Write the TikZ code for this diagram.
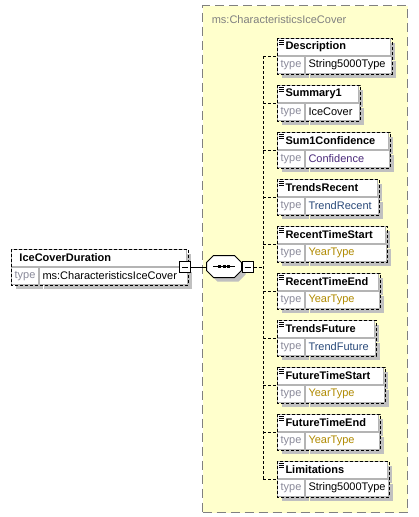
\documentclass[tikz,border=0pt]{standalone}
\usepackage{fontspec}
\setmainfont{Liberation Sans}
\usetikzlibrary{shadows}

\definecolor{grpfill}{HTML}{FFFFCC}
\definecolor{grpline}{HTML}{808080}
\definecolor{shadowgray}{HTML}{C0C0C0}
\definecolor{sepline}{HTML}{B4B4B4}
\definecolor{keytext}{HTML}{8A8A9A}
\definecolor{simpletype}{HTML}{B08A00}
\definecolor{enumtype}{HTML}{4A2A7A}
\definecolor{trendtype}{HTML}{2A4A7A}

\begin{document}
\begin{tikzpicture}[x=1pt, y=-1pt, line width=1pt,
    font=\fontsize{11}{13}\selectfont,
    eshadow/.style={drop shadow={shadow xshift=4pt, shadow yshift=-4pt, fill=shadowgray, opacity=1}},
    grp/.style={draw=grpline, dash pattern=on 9pt off 5pt, fill=grpfill, anchor=north west, inner sep=0pt},
    etitle/.style={draw=sepline, fill=white, eshadow, anchor=north west, align=left, inner xsep=8pt, inner ysep=0pt, minimum height=17pt, font=\fontsize{11}{13}\selectfont\bfseries},
    ekey/.style={draw=sepline, fill=white, eshadow, anchor=north west, inner sep=0pt, minimum width=27pt, minimum height=17pt, text=keytext},
    etype/.style={draw=sepline, fill=white, eshadow, anchor=north west, align=left, inner xsep=3pt, inner ysep=0pt, minimum height=17pt},
    eborder/.style={draw, dash pattern=on 3pt off 2pt},
    conn/.style={dash pattern=on 3pt off 2pt},
    minus/.style={draw, fill=white, minimum size=11pt, inner sep=0pt},
    seqbox/.style={minimum width=34pt, minimum height=21pt, inner sep=0pt}
]
\useasboundingbox (0,0) rectangle (418,517);

% group of the complex type
\node[grp, minimum width=205pt, minimum height=507pt] (grpbox) at (202,5) {};
\node[anchor=base west, text=grpline] (grptitle) at (208,23) {ms:CharacteristicsIceCover};

% root element
\node[etitle, text width=159pt] (icd) at (11,249) {IceCoverDuration};
\node[ekey] (icd-k) at (icd.south west) {type};
\node[etype, text width=142pt] (icd-t) at (icd-k.north east) {ms:CharacteristicsIceCover};

% child elements
\node[etitle, text width=97pt] (desc) at (277,38) {Description};
\node[ekey] (desc-k) at (desc.south west) {type};
\node[etype, text width=80pt] (desc-t) at (desc-k.north east) {String5000Type};

\node[etitle, text width=65pt] (sum) at (277,85) {Summary1};
\node[ekey] (sum-k) at (sum.south west) {type};
\node[etype, text width=48pt] (sum-t) at (sum-k.north east) {IceCover};

\node[etitle, text width=95pt] (conf) at (277,132) {Sum1Confidence};
\node[ekey] (conf-k) at (conf.south west) {type};
\node[etype, text width=78pt, text=enumtype] (conf-t) at (conf-k.north east) {Confidence};

\node[etitle, text width=84pt] (trec) at (277,179) {TrendsRecent};
\node[ekey] (trec-k) at (trec.south west) {type};
\node[etype, text width=67pt, text=trendtype] (trec-t) at (trec-k.north east) {TrendRecent};

\node[etitle, text width=92pt] (rts) at (277,226) {RecentTimeStart};
\node[ekey] (rts-k) at (rts.south west) {type};
\node[etype, text width=75pt, text=simpletype] (rts-t) at (rts-k.north east) {YearType};

\node[etitle, text width=85pt] (rte) at (277,273) {RecentTimeEnd};
\node[ekey] (rte-k) at (rte.south west) {type};
\node[etype, text width=68pt, text=simpletype] (rte-t) at (rte-k.north east) {YearType};

\node[etitle, text width=81pt] (tfut) at (277,320) {TrendsFuture};
\node[ekey] (tfut-k) at (tfut.south west) {type};
\node[etype, text width=64pt, text=trendtype] (tfut-t) at (tfut-k.north east) {TrendFuture};

\node[etitle, text width=90pt] (fts) at (277,367) {FutureTimeStart};
\node[ekey] (fts-k) at (fts.south west) {type};
\node[etype, text width=73pt, text=simpletype] (fts-t) at (fts-k.north east) {YearType};

\node[etitle, text width=85pt] (fte) at (277,414) {FutureTimeEnd};
\node[ekey] (fte-k) at (fte.south west) {type};
\node[etype, text width=68pt, text=simpletype] (fte-t) at (fte-k.north east) {YearType};

\node[etitle, text width=94pt] (lim) at (277,461) {Limitations};
\node[ekey] (lim-k) at (lim.south west) {type};
\node[etype, text width=77pt] (lim-t) at (lim-k.north east) {String5000Type};

% dashed outlines and content marks
\draw[eborder] (icd.north west) rectangle (icd-t.south east);
\foreach \n in {desc,sum,conf,trec,rts,rte,tfut,fts,fte,lim}{
  \draw[eborder] (\n.north west) rectangle (\n-t.south east);
  \draw[line width=0.8pt] ([shift={(1.5,2)}]\n.north west) -- +(5,0) ++(0,2) -- +(5,0) ++(0,2) -- +(5,0);
}

% sequence compositor
\node[seqbox] (seq) at (224,266.5) {};
\draw[fill=white, eshadow] ([xshift=7pt]seq.north west) -- ([xshift=-7pt]seq.north east)
  -- ([yshift=-7pt]seq.north east) -- ([yshift=7pt]seq.south east)
  -- ([xshift=-7pt]seq.south east) -- ([xshift=7pt]seq.south west)
  -- ([yshift=7pt]seq.south west) -- ([yshift=-7pt]seq.north west) -- cycle;
\draw (seq.center) +(-11,0) -- +(11,0);
\foreach \d in {-4.5,0,4.5}
  \fill ([shift={(\d,0)}]seq.center) +(-1.5,-1.5) rectangle +(1.5,1.5);
\node[minus] (icdm) at (185,267) {\rule{6pt}{1pt}};
\node[minus] (seqm) at (247.5,267) {\rule{6pt}{1pt}};
\coordinate (rail) at (263,267);

\draw (icdm) -- (icdm -| seq.west);
\draw[conn] (seqm) -- (rail);
\draw[conn] (rail |- desc.south west) -- (rail |- lim.south west);
\foreach \n in {desc,sum,conf,trec,rts,rte,tfut,fts,fte,lim}
  \draw[conn] (rail |- \n.south west) -- (\n.south west);
\end{tikzpicture}
\end{document}
